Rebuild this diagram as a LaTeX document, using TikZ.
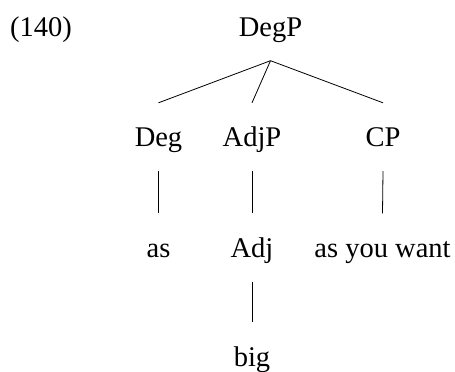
\documentclass[tikz,border=0pt]{standalone}
\usepackage{fontspec}
\setmainfont{Liberation Serif}
\begin{document}
\begin{tikzpicture}[x=1pt,y=-1pt,
  lbl/.style={anchor=base,inner sep=0pt,font=\fontsize{28.5}{34}\selectfont},
  tn/.style={lbl,text height=43.5pt,text depth=24.5pt},
  edge/.style={line width=0.8pt}]
\useasboundingbox (0,0) rectangle (455,372);
\node[lbl,anchor=base west] (ex) at (10,36) {(140)};
\node[tn] (degp) at (270.5,36) {DegP};
\node[tn] (deg) at (158.5,146.5) {Deg};
\node[tn] (adjp) at (252,146.5) {AdjP};
\node[tn] (cp) at (383,146.5) {CP};
\node[tn] (as) at (158.5,257) {as};
\node[tn] (adj) at (252,257) {Adj};
\node[tn] (asyw) at (382.5,257) {as you want};
\node[tn] (big) at (252,366) {big};
\draw[edge] (degp.south) -- (deg.north);
\draw[edge] (degp.south) -- (adjp.north);
\draw[edge] (degp.south) -- (cp.north);
\draw[edge] (deg.south) -- (as.north);
\draw[edge] (adjp.south) -- (adj.north);
\draw[edge] (cp.south) -- (asyw.north);
\draw[edge] (adj.south) -- (big.north);
\end{tikzpicture}
\end{document}
